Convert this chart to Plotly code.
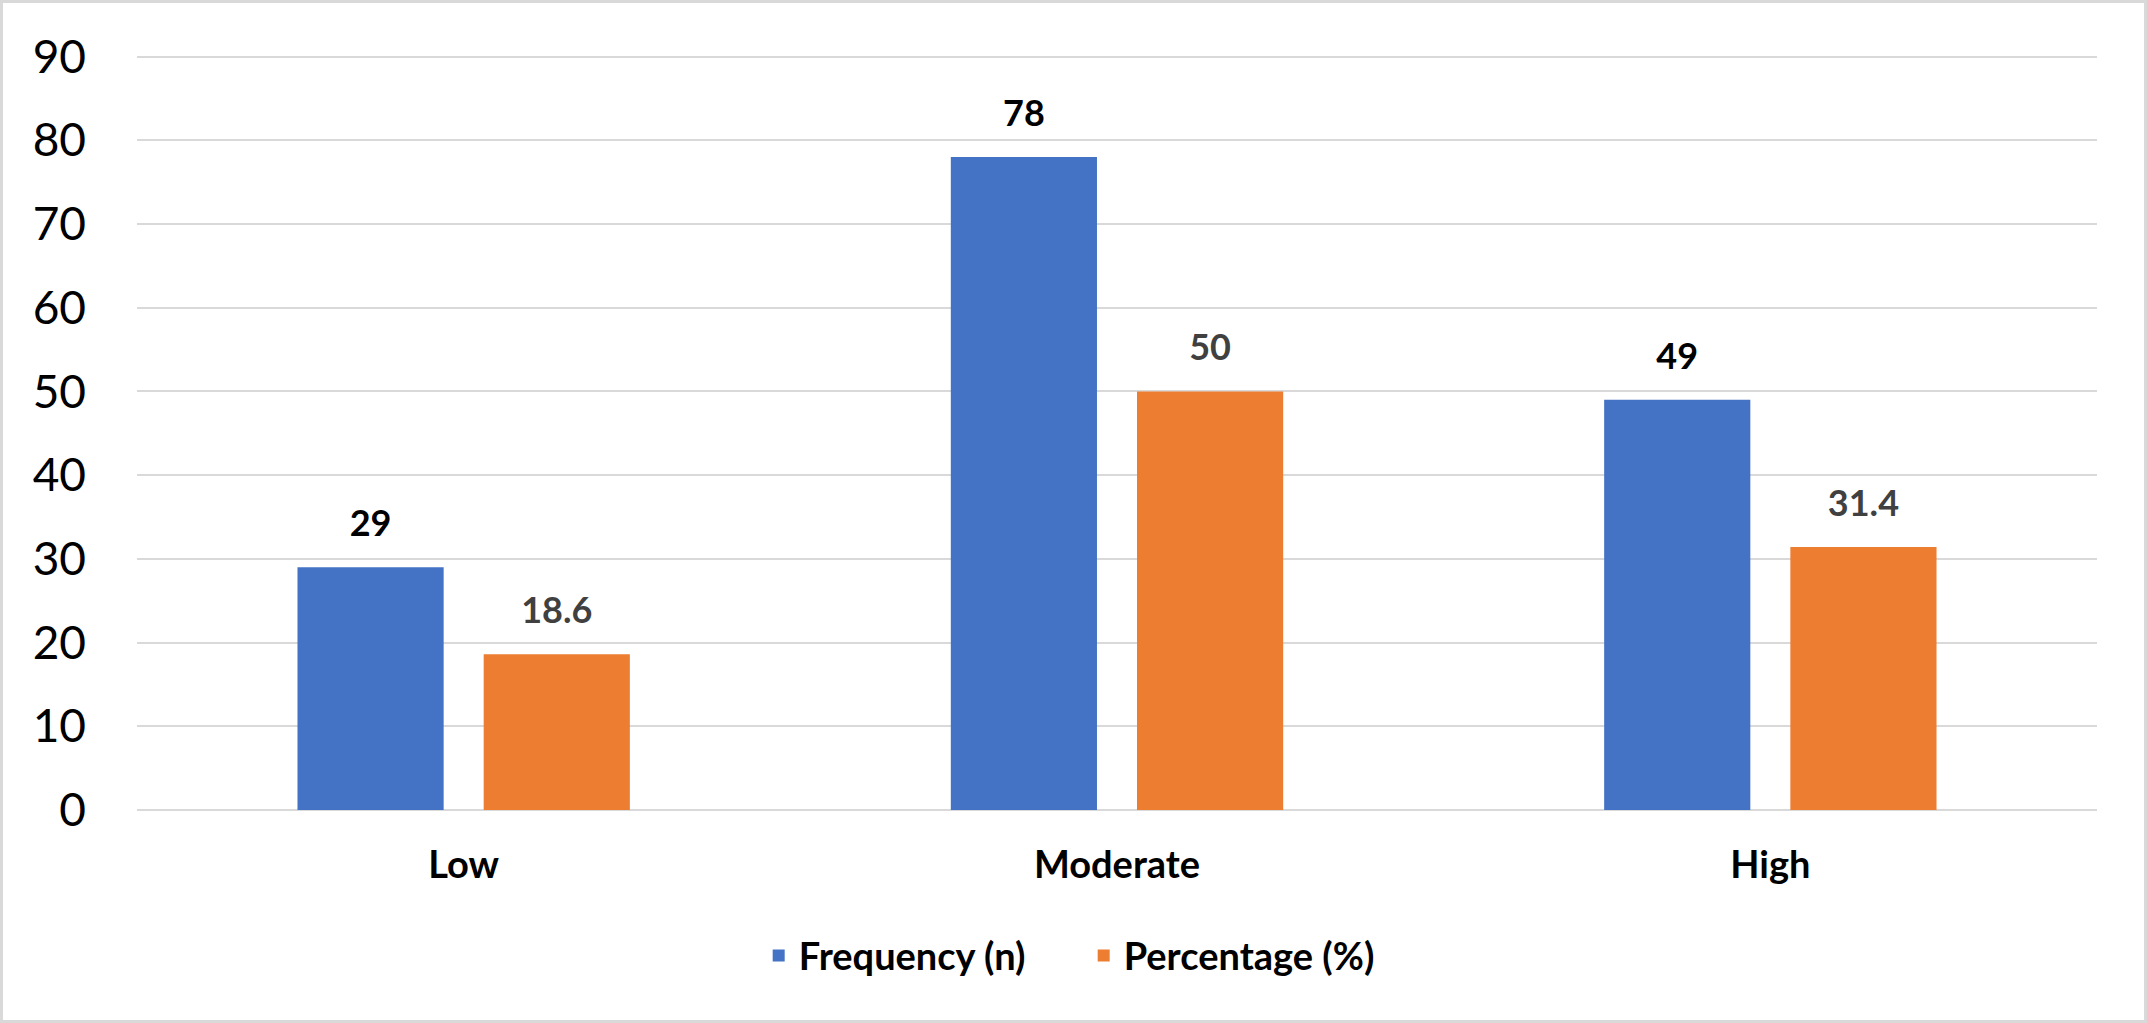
import plotly.graph_objects as go

categories = ["Low", "Moderate", "High"]
frequency = [29, 78, 49]
percentage = [18.6, 50, 31.4]
series_names = ["Frequency (n)", "Percentage (%)"]
y_ticks = [0, 10, 20, 30, 40, 50, 60, 70, 80, 90]

BLUE = "#4472C4"
ORANGE = "#ED7D31"
GRID = "#D9D9D9"
FONT = "Lato"

W, H = 2147, 1023
ML, MR, MT, MB = 137, 50, 54, 213
PW, PH = W - ML - MR, H - MT - MB
BARGAP = 0.43
BARGROUPGAP = 0.215

fig = go.Figure()
fig.add_trace(go.Bar(x=categories, y=frequency, name=series_names[0],
                     marker=dict(color=BLUE, line=dict(width=0)), hoverinfo="skip"))
fig.add_trace(go.Bar(x=categories, y=percentage, name=series_names[1],
                     marker=dict(color=ORANGE, line=dict(width=0)), hoverinfo="skip"))

# value labels, grouped like the bars
for vals, col in [(frequency, "#000000"), (percentage, "#404040")]:
    fig.add_trace(go.Scatter(
        x=categories, y=vals, mode="markers+text",
        marker=dict(size=34, opacity=0),
        text=[f"{v:g}" for v in vals], textposition="top center",
        textfont=dict(family=FONT, size=36, color=col, weight="bold"),
        showlegend=False, hoverinfo="skip", cliponaxis=False))

# light grey chart-area border
fig.add_shape(type="rect", xref="paper", yref="paper", layer="above",
              x0=-(ML - 1.5) / PW, x1=1 + (MR - 1.5) / PW,
              y0=-(MB - 1.5) / PH, y1=1 + (MT - 1.5) / PH,
              line=dict(color=GRID, width=3), fillcolor="rgba(0,0,0,0)")

fig.update_layout(
    width=W, height=H,
    margin=dict(l=ML, r=MR, t=MT, b=MB, pad=0),
    paper_bgcolor="white", plot_bgcolor="white",
    barmode="group", bargap=BARGAP, bargroupgap=BARGROUPGAP,
    scattermode="group", scattergap=BARGAP,
    font=dict(family=FONT, color="#000000"),
    showlegend=True,
    legend=dict(orientation="h", x=0.483, xanchor="center", y=-0.193, yanchor="middle",
                font=dict(family=FONT, size=38, color="#000000", weight="bold"),
                entrywidth=280, entrywidthmode="pixels",
                itemclick=False, itemdoubleclick=False, bgcolor="rgba(0,0,0,0)"),
    xaxis=dict(showgrid=False, showline=False, zeroline=False, ticks="",
               tickfont=dict(family=FONT, size=38, color="#000000", weight="bold"),
               ticklabelstandoff=29, fixedrange=True),
    yaxis=dict(range=[0, 90.3], tickvals=y_ticks, showgrid=True, gridcolor=GRID, gridwidth=2,
               zeroline=True, zerolinecolor=GRID, zerolinewidth=2, showline=False, ticks="",
               tickfont=dict(family=FONT, size=46, color="#000000"),
               ticklabelstandoff=50, fixedrange=True),
)

post = "document.body.style.margin='0';"
fig.write_html("out.html", post_script=post, config={"displayModeBar": False})
